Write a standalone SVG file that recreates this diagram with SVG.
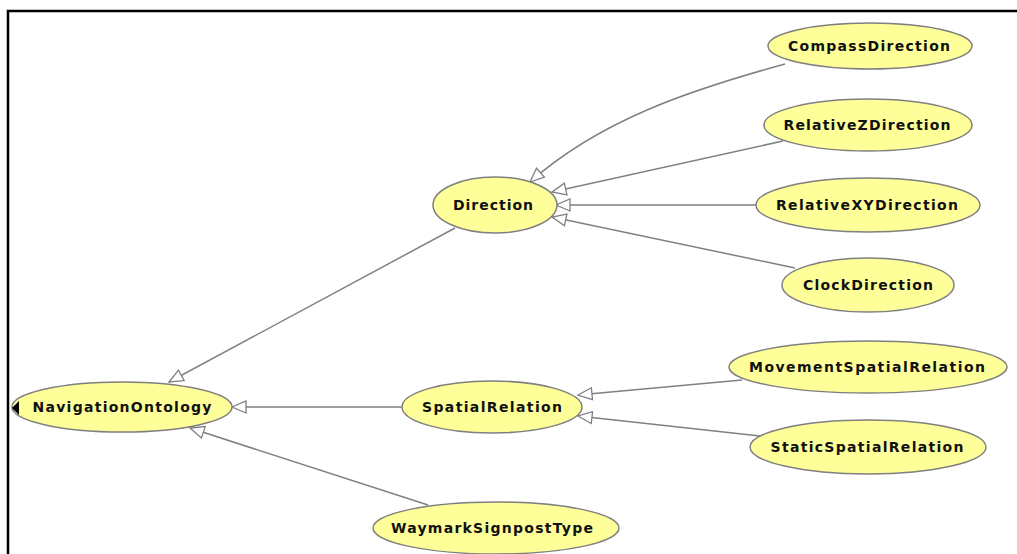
<svg xmlns="http://www.w3.org/2000/svg" width="1017" height="554" viewBox="0 0 1017 554">
<style>
.n ellipse{fill:#ffff99;stroke:#7f7f7f;stroke-width:1.5}
.n text{font-family:"DejaVu Sans","Liberation Sans",sans-serif;font-weight:bold;font-size:14px;fill:#111111;text-anchor:middle}
.e path{fill:none;stroke:#808080;stroke-width:1.5;marker-end:url(#tri)}
</style>
<defs>
<marker id="tri" markerUnits="userSpaceOnUse" markerWidth="18" markerHeight="16" refX="15" refY="7" orient="auto" viewBox="0 0 18 16">
<path d="M1,1 L15,7 L1,13 Z" fill="#ffffff" stroke="#808080" stroke-width="1.3"/>
</marker>
</defs>
<rect width="1017" height="554" fill="#ffffff"/>
<path d="M8,554 V11 H1017" fill="none" stroke="#000" stroke-width="2.5"/>
<g class="e" id="connectors">
<path d="M785,64 C690,90 600,120 530,182"/>
<path d="M783,141 L552,192"/>
<path d="M756,205 L556,205"/>
<path d="M795,268 L552,217"/>
<path d="M455,228 L169,382"/>
<path d="M402,407 L232,407"/>
<path d="M428,505 L190,428"/>
<path d="M742,380 L578,395"/>
<path d="M760,436 L578,416"/>
</g>
<g class="n" id="NavigationOntology"><ellipse cx="122" cy="407" rx="110" ry="25"/><text x="122" y="412" textLength="179" lengthAdjust="spacing">NavigationOntology</text></g>
<path d="M12,408 L19,401 L19,415 Z" fill="#000"/>
<g class="n" id="Direction"><ellipse cx="495" cy="205" rx="62" ry="28"/><text x="493" y="210" textLength="80" lengthAdjust="spacing">Direction</text></g>
<g class="n" id="CompassDirection"><ellipse cx="870" cy="46" rx="102" ry="23"/><text x="869" y="51" textLength="162" lengthAdjust="spacing">CompassDirection</text></g>
<g class="n" id="RelativeZDirection"><ellipse cx="868" cy="125" rx="104" ry="26"/><text x="867" y="130" textLength="167" lengthAdjust="spacing">RelativeZDirection</text></g>
<g class="n" id="RelativeXYDirection"><ellipse cx="868" cy="205" rx="112" ry="27"/><text x="867" y="210" textLength="182" lengthAdjust="spacing">RelativeXYDirection</text></g>
<g class="n" id="ClockDirection"><ellipse cx="868" cy="285" rx="86" ry="27"/><text x="868" y="290" textLength="130" lengthAdjust="spacing">ClockDirection</text></g>
<g class="n" id="SpatialRelation"><ellipse cx="492" cy="407" rx="90" ry="26"/><text x="492" y="412" textLength="140" lengthAdjust="spacing">SpatialRelation</text></g>
<g class="n" id="MovementSpatialRelation"><ellipse cx="868" cy="367" rx="139" ry="26"/><text x="867" y="372" textLength="236" lengthAdjust="spacing">MovementSpatialRelation</text></g>
<g class="n" id="StaticSpatialRelation"><ellipse cx="868" cy="447" rx="118" ry="27"/><text x="867" y="452" textLength="193" lengthAdjust="spacing">StaticSpatialRelation</text></g>
<g class="n" id="WaymarkSignpostType"><ellipse cx="496" cy="528" rx="123" ry="26"/><text x="492" y="533" textLength="202" lengthAdjust="spacing">WaymarkSignpostType</text></g>
</svg>
